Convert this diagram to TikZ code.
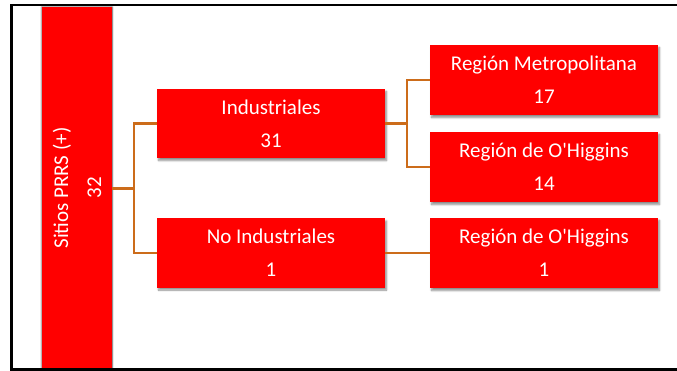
\documentclass[tikz,border=0pt]{standalone}
\usepackage{fontspec}
\setmainfont{Carlito}
\usetikzlibrary{shadows.blur}
\definecolor{linkorange}{RGB}{204,108,26}
\definecolor{boxred}{RGB}{255,0,0}
\tikzset{
  redbox/.style={draw=none, fill=boxred, text=white, inner sep=0pt, align=center,
    font=\fontsize{21}{33}\selectfont,
    blur shadow={shadow xshift=1.5pt, shadow yshift=-2.5pt, shadow blur steps=6, shadow opacity=45}},
  link/.style={draw=linkorange, line width=2.2pt},
  frameline/.style={draw=black, line width=2.2pt}
}
\begin{document}
\begin{tikzpicture}[x=1pt, y=-1pt]
\useasboundingbox (0,0) rectangle (677,371);
% vertical bar
\node[redbox, minimum width=70pt, minimum height=363pt,
  blur shadow={shadow xshift=0pt, shadow yshift=0pt, shadow blur steps=6, shadow opacity=45}]
  (bar) at (77,188.5) {};
\node[text=white, rotate=90, align=center, font=\fontsize{21}{33}\selectfont] (bartext) at (77,188) {Sitios PRRS (+)\\32};
% second level
\node[redbox, minimum width=228pt, minimum height=69pt] (ind) at (271,123.5) {Industriales\\31};
\node[redbox, minimum width=228pt, minimum height=69pt] (noind) at (271,253) {No Industriales\\1};
% third level
\node[redbox, minimum width=228pt, minimum height=70pt] (met) at (544,80) {Región Metropolitana\\17};
\node[redbox, minimum width=228pt, minimum height=70pt] (ohi) at (544,167) {Región de O\textquotesingle Higgins\\14};
\node[redbox, minimum width=228pt, minimum height=70pt] (ohia) at (544,253) {Región de O\textquotesingle Higgins\\1};
% connectors
\draw[link] (bar.east) -- ++(22,0) |- (ind.west);
\draw[link] (bar.east) -- ++(22,0) |- (noind.west);
\draw[link] (ind.east) -- ++(22,0) |- (met.west);
\draw[link] (ind.east) -- ++(22,0) |- (ohi.west);
\draw[link] (noind.east) -- (ohia.west);
% frame
\draw[frameline] (690,5) -- (11.5,5) -- (11.5,369.5) -- (690,369.5);
\end{tikzpicture}
\end{document}
